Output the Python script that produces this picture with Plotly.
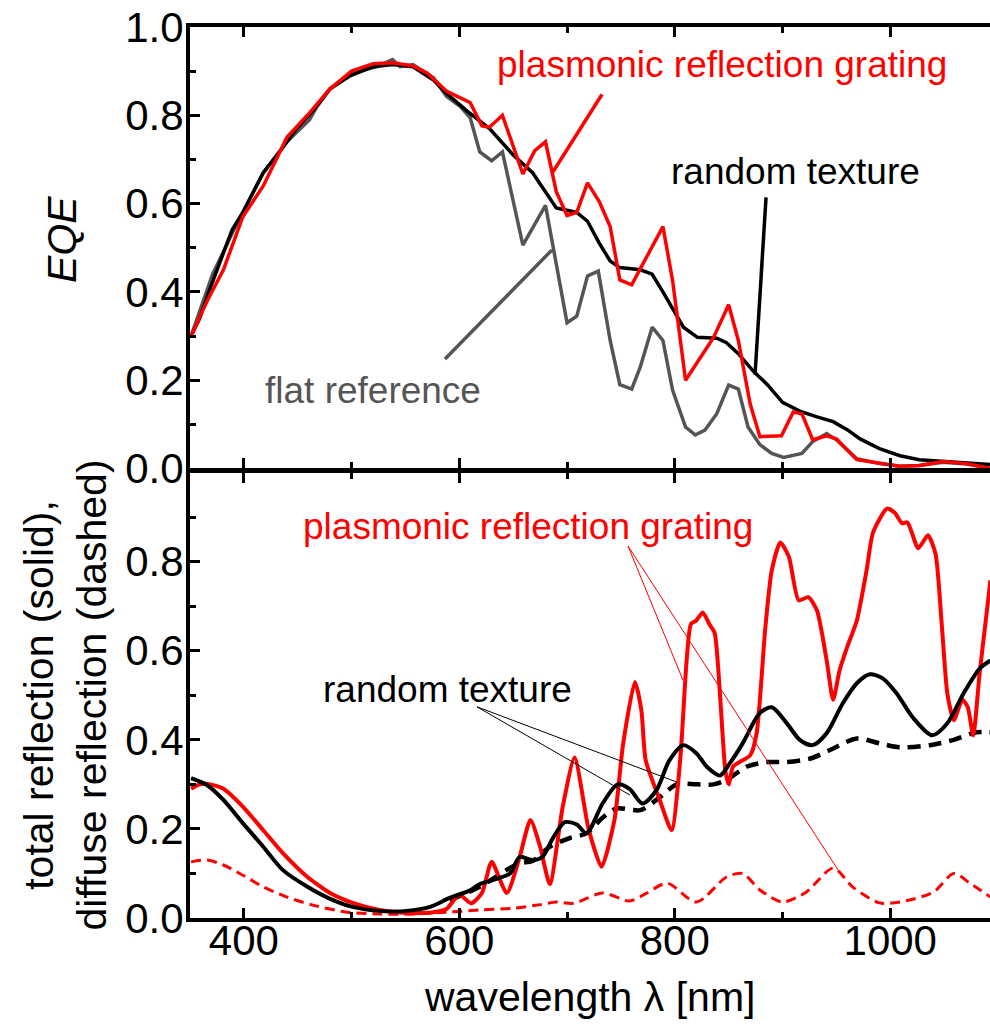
import plotly.graph_objects as go
from plotly.subplots import make_subplots

# ---- EQE (top panel) ----
eqe_random_wl = [351, 359, 369, 378, 389, 399, 418, 434, 449, 464, 480, 499, 520, 538, 557, 576, 588, 607,
                 628, 650, 668, 690, 709, 719, 730, 740, 749, 768, 779, 789, 808, 821, 839, 848, 859, 873,
                 886, 900, 916, 932, 947, 960, 972, 990, 1009, 1027, 1046, 1068, 1093]
eqe_random = [0.30, 0.34, 0.41, 0.47, 0.54, 0.58, 0.67, 0.72, 0.77, 0.81, 0.86, 0.89, 0.91, 0.915, 0.91,
              0.88, 0.85, 0.81, 0.77, 0.71, 0.67, 0.59, 0.58, 0.56, 0.51, 0.47, 0.455, 0.45, 0.44, 0.40,
              0.32, 0.297, 0.295, 0.285, 0.26, 0.22, 0.19, 0.15, 0.13, 0.117, 0.106, 0.088, 0.067, 0.045,
              0.029, 0.02, 0.016, 0.013, 0.009]

eqe_plasmonic_wl = [351, 366, 381, 399, 418, 440, 459, 480, 500, 520, 538, 557, 570, 588, 598, 610, 621,
                    628, 640, 659, 670, 680, 690, 700, 709, 719, 730, 740, 749, 760, 789, 798, 810, 836,
                    850, 859, 870, 879, 899, 910, 918, 928, 941, 950, 969, 990, 1009, 1027, 1049, 1071, 1093]
eqe_plasmonic = [0.30, 0.38, 0.45, 0.57, 0.64, 0.75, 0.80, 0.86, 0.90, 0.917, 0.919, 0.912, 0.896, 0.855,
                 0.843, 0.829, 0.776, 0.773, 0.80, 0.667, 0.72, 0.74, 0.627, 0.573, 0.58, 0.647, 0.604,
                 0.548, 0.427, 0.416, 0.548, 0.425, 0.20, 0.297, 0.371, 0.29, 0.146, 0.072, 0.074, 0.128,
                 0.124, 0.065, 0.074, 0.067, 0.02, 0.013, 0.005, 0.007, 0.016, 0.011, 0.0]

eqe_flat_wl = [351, 371, 390, 418, 440, 461, 468, 480, 501, 523, 538, 545, 557, 576, 588, 601, 610, 619,
               630, 640, 659, 680, 700, 709, 719, 729, 740, 749, 760, 768, 779, 789, 798, 810, 819, 828,
               839, 850, 859, 868, 879, 890, 901, 918, 928, 941, 950, 969, 990, 1009, 1027, 1049, 1071, 1093]
eqe_flat = [0.30, 0.44, 0.537, 0.67, 0.74, 0.79, 0.82, 0.86, 0.896, 0.91, 0.926, 0.91, 0.915, 0.885,
            0.843, 0.82, 0.795, 0.717, 0.697, 0.717, 0.506, 0.596, 0.33, 0.345, 0.436, 0.447, 0.29, 0.19,
            0.18, 0.23, 0.32, 0.29, 0.177, 0.094, 0.076, 0.087, 0.124, 0.189, 0.18, 0.094, 0.054, 0.034,
            0.025, 0.034, 0.061, 0.079, 0.065, 0.022, 0.011, 0.005, 0.007, 0.014, 0.01, 0.0]

# ---- reflection (bottom panel) ----
refl_random_wl = [351, 366, 381, 399, 418, 436, 459, 480, 501, 526, 551, 573, 591, 610, 619, 631, 647,
                  656, 668, 677, 687, 698, 709, 718, 733, 747, 758, 770, 783, 795, 808, 820, 830, 842,
                  851, 863, 879, 890, 904, 916, 928, 941, 956, 969, 981, 993, 1006, 1021, 1039, 1053,
                  1068, 1083, 1093]
refl_random = [0.314, 0.298, 0.265, 0.213, 0.16, 0.108, 0.07, 0.043, 0.025, 0.016, 0.016, 0.025, 0.045,
               0.062, 0.076, 0.085, 0.10, 0.137, 0.13, 0.137, 0.18, 0.215, 0.21, 0.19, 0.257, 0.30, 0.29,
               0.257, 0.287, 0.354, 0.388, 0.37, 0.339, 0.32, 0.347, 0.392, 0.46, 0.473, 0.437, 0.40,
               0.388, 0.415, 0.482, 0.527, 0.547, 0.538, 0.504, 0.45, 0.41, 0.437, 0.504, 0.56, 0.578]

diff_random_wl = [591, 619, 644, 656, 668, 684, 703, 718, 733, 746, 768, 783, 802, 820, 836, 848, 867,
                  886, 904, 926, 944, 969, 990, 1009, 1037, 1059, 1080, 1093]
diff_random = [0.04, 0.07, 0.108, 0.123, 0.128, 0.16, 0.18, 0.19, 0.225, 0.246, 0.242, 0.265, 0.30, 0.30,
               0.30, 0.31, 0.34, 0.35, 0.35, 0.358, 0.377, 0.403, 0.392, 0.383, 0.388, 0.40, 0.417, 0.417]

refl_plasmonic_wl = [351, 359, 369, 381, 399, 418, 436, 459, 480, 501, 526, 551, 576, 588, 600, 611, 621,
                     630, 644, 656, 666, 675, 684, 696, 707, 720, 732, 744, 752, 763, 769, 773, 786, 797,
                     805, 811, 815, 820, 826, 832, 837, 842, 847, 850, 854, 860, 870, 876, 884, 890, 898,
                     906, 915, 924, 932, 941, 947, 953, 960, 969, 978, 984, 997, 1004, 1011, 1016, 1026,
                     1035, 1042, 1048, 1053, 1059, 1067, 1072, 1077, 1083, 1093]
refl_plasmonic = [0.29, 0.30, 0.30, 0.29, 0.25, 0.197, 0.146, 0.092, 0.056, 0.034, 0.018, 0.011, 0.013,
                  0.02, 0.052, 0.033, 0.056, 0.126, 0.056, 0.137, 0.22, 0.16, 0.076, 0.25, 0.36, 0.2,
                  0.115, 0.22, 0.39, 0.53, 0.466, 0.354, 0.265, 0.197, 0.354, 0.578, 0.66, 0.668, 0.686,
                  0.66, 0.64, 0.50, 0.33, 0.30, 0.34, 0.35, 0.365, 0.415, 0.65, 0.78, 0.843, 0.81, 0.713,
                  0.72, 0.69, 0.578, 0.49, 0.556, 0.608, 0.668, 0.78, 0.865, 0.919, 0.91, 0.886, 0.888,
                  0.83, 0.859, 0.818, 0.653, 0.504, 0.444, 0.49, 0.473, 0.41, 0.55, 0.758]

diff_plasmonic_wl = [351, 366, 381, 399, 418, 440, 464, 496, 526, 557, 588, 619, 650, 675, 690, 706, 733,
                     758, 774, 793, 820, 848, 863, 879, 900, 922, 947, 965, 990, 1009, 1040, 1059, 1074, 1093]
diff_plasmonic = [0.126, 0.13, 0.119, 0.096, 0.07, 0.047, 0.029, 0.013, 0.009, 0.009, 0.013, 0.018, 0.022,
                  0.03, 0.036, 0.033, 0.056, 0.038, 0.056, 0.078, 0.036, 0.092, 0.10, 0.063, 0.036, 0.058,
                  0.112, 0.07, 0.034, 0.036, 0.058, 0.10, 0.078, 0.047]

RED = "#ff0000"
BLACK = "#000000"
GRAY = "#555555"
FONT = "Liberation Sans, Arial, sans-serif"

fig = make_subplots(rows=2, cols=1, shared_xaxes=True, vertical_spacing=0)

# top panel: EQE curves (gray below black below red)
fig.add_trace(go.Scatter(x=eqe_flat_wl, y=eqe_flat, mode="lines",
                         line=dict(color=GRAY, width=3.5)), row=1, col=1)
fig.add_trace(go.Scatter(x=eqe_random_wl, y=eqe_random, mode="lines",
                         line=dict(color=BLACK, width=3.5)), row=1, col=1)
fig.add_trace(go.Scatter(x=eqe_plasmonic_wl, y=eqe_plasmonic, mode="lines",
                         line=dict(color=RED, width=3.5)), row=1, col=1)

# bottom panel: total (solid) and diffuse (dashed) reflection
fig.add_trace(go.Scatter(x=diff_plasmonic_wl, y=diff_plasmonic, mode="lines",
                         line=dict(color=RED, width=3, dash="10px,6px", shape="spline", smoothing=0.8)),
              row=2, col=1)
fig.add_trace(go.Scatter(x=diff_random_wl, y=diff_random, mode="lines",
                         line=dict(color=BLACK, width=4.5, dash="13px,8px", shape="spline", smoothing=0.8)),
              row=2, col=1)
fig.add_trace(go.Scatter(x=refl_plasmonic_wl, y=refl_plasmonic, mode="lines",
                         line=dict(color=RED, width=4, shape="spline", smoothing=0.6)), row=2, col=1)
fig.add_trace(go.Scatter(x=refl_random_wl, y=refl_random, mode="lines",
                         line=dict(color=BLACK, width=4, shape="spline", smoothing=0.8)), row=2, col=1)

x_range = [350, 1092.6]
xmaj = [400, 600, 800, 1000]
xmin = [500, 700, 900]

common_x = dict(range=x_range, showgrid=False, zeroline=False, showline=True, linewidth=4,
                linecolor=BLACK, mirror="ticks", ticks="inside", ticklen=10, tickwidth=3,
                tickcolor=BLACK, tickvals=xmaj,
                minor=dict(ticks="inside", ticklen=6, tickwidth=3, tickcolor=BLACK, tickvals=xmin,
                           showgrid=False),
                tickfont=dict(family=FONT, size=42, color=BLACK))
fig.update_xaxes(**common_x)
fig.update_xaxes(showticklabels=False, row=1, col=1)
fig.update_xaxes(showticklabels=True, ticklabelstandoff=-17, row=2, col=1)

common_y = dict(range=[0, 1.0], showgrid=False, zeroline=False, showline=True, linewidth=4,
                linecolor=BLACK, mirror=False, ticks="inside", ticklen=10, tickwidth=3,
                tickcolor=BLACK, tickformat=".1f", ticklabelstandoff=-6,
                minor=dict(ticks="inside", ticklen=6, tickwidth=3, tickcolor=BLACK,
                           tickvals=[0.1, 0.3, 0.5, 0.7, 0.9], showgrid=False),
                tickfont=dict(family=FONT, size=42, color=BLACK))
fig.update_yaxes(**common_y)
# the two panels share a single divider line
fig.update_yaxes(tickvals=[0, 0.2, 0.4, 0.6, 0.8, 1.0], domain=[0.5045, 1.0], row=1, col=1)
fig.update_yaxes(tickvals=[0, 0.2, 0.4, 0.6, 0.8], domain=[0.0, 0.5], row=2, col=1)

# curve labels and their leader lines
labels_top = [
    ("plasmonic reflection grating", 843.8, 0.915, RED),
    ("random texture", 912.5, 0.672, BLACK),
    ("flat reference", 519.9, 0.176, GRAY),
]
leaders_top = [
    (687.0, 0.672, 732.4, 0.847, RED),
    (884.7, 0.614, 874.5, 0.212, BLACK),
    (586.7, 0.248, 686.0, 0.495, GRAY),
]
labels_bottom = [
    ("plasmonic reflection grating", 663.3, 0.878, RED),
    ("random texture", 589.0, 0.512, BLACK),
]
leaders_bottom = [
    (756.6, 0.835, 807.6, 0.534, RED),
    (756.6, 0.835, 951.5, 0.108, RED),
    (616.4, 0.474, 802.0, 0.305, BLACK),
    (616.4, 0.474, 758.4, 0.276, BLACK),
]

annotations = []
for text, lx, ly, col in labels_top:
    annotations.append(dict(text=text, x=lx, y=ly, xref="x", yref="y", showarrow=False,
                            font=dict(family=FONT, size=37, color=col)))
for text, lx, ly, col in labels_bottom:
    annotations.append(dict(text=text, x=lx, y=ly, xref="x2", yref="y2", showarrow=False,
                            font=dict(family=FONT, size=37, color=col)))

# axis titles
annotations.append(dict(text="<i>EQE</i>", x=-0.16, y=0.761, xref="paper", yref="paper",
                        textangle=-90, showarrow=False, xanchor="center", yanchor="middle",
                        font=dict(family=FONT, size=41, color=BLACK)))
annotations.append(dict(text="total reflection (solid),<br>diffuse reflection (dashed)",
                        x=-0.156, y=0.25, xref="paper", yref="paper", textangle=-90,
                        showarrow=False, xanchor="center", yanchor="middle",
                        font=dict(family=FONT, size=41, color=BLACK)))
annotations.append(dict(text="wavelength λ [nm]", x=0.499, y=-0.0887, xref="paper", yref="paper",
                        showarrow=False, xanchor="center", yanchor="middle",
                        font=dict(family=FONT, size=41, color=BLACK)))

shapes = []
for x0, y0, x1, y1, col in leaders_top:
    shapes.append(dict(type="line", x0=x0, y0=y0, x1=x1, y1=y1, xref="x", yref="y",
                       line=dict(color=col, width=3.5)))
for x0, y0, x1, y1, col in leaders_bottom:
    shapes.append(dict(type="line", x0=x0, y0=y0, x1=x1, y1=y1, xref="x2", yref="y2",
                       line=dict(color=col, width=1)))

fig.update_layout(width=990, height=1028, margin=dict(l=190, r=0, t=27, b=110),
                  paper_bgcolor="white", plot_bgcolor="white", showlegend=False,
                  annotations=annotations, shapes=shapes,
                  font=dict(family=FONT, color=BLACK))

fig.write_html("out.html")
